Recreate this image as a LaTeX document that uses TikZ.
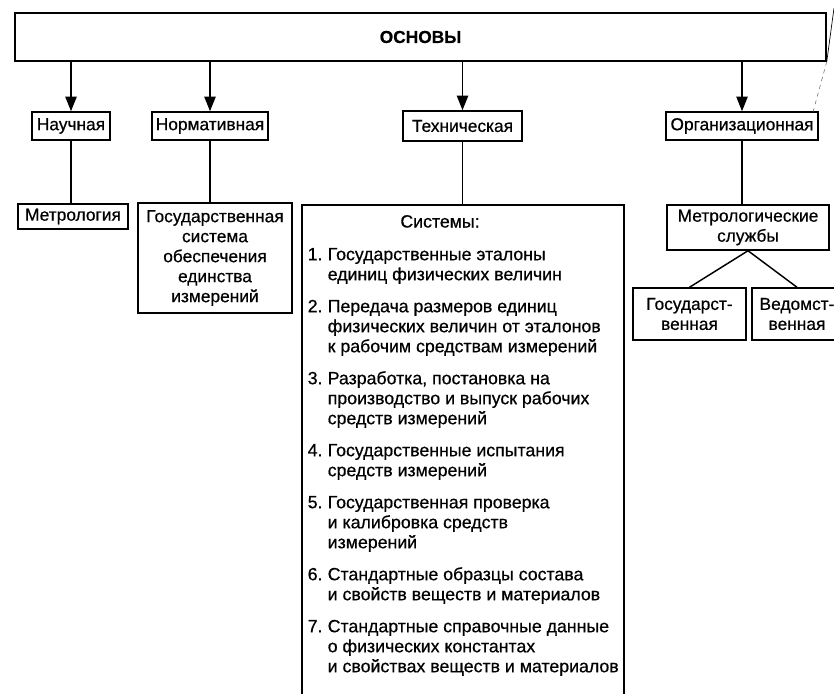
\documentclass[tikz,border=0pt]{standalone}
\usepackage{fontspec}
\setmainfont{Liberation Sans}[FakeBold=0.6]
\usetikzlibrary{arrows.meta}

\tikzset{every picture/.style={line width=1.1pt}}
\tikzset{
  blok/.style={draw, align=center, inner sep=2pt, font=\fontsize{13}{15}\selectfont},
  strelka/.style={-{Triangle[length=11pt,width=8.5pt]}},
  punkt/.style={anchor=north west, inner sep=0pt, align=left, font=\fontsize{13.3}{15}\selectfont},
  skan/.style={line width=0.4pt, dashed, color=black!60},
}

\begin{document}
\begin{tikzpicture}[x=0.75pt,y=0.75pt,yscale=-1,xscale=1]
	\useasboundingbox (0,0) rectangle (834,693);
	
	%Shape: Rectangle [osnovy]
	\node [blok, minimum width=608.25pt, minimum height=36pt, font=\fontsize{13}{15}\selectfont\bfseries] (osnovy) at (420.5,37) {ОСНОВЫ};
	
	%Shape: Rectangle [second row]
	\node [blok, minimum width=58.5pt, minimum height=21pt] (nauch) at (71,126) {Научная};
	\node [blok, minimum width=87pt, minimum height=21pt] (norm) at (210,126) {Нормативная};
	\node [blok, minimum width=89.25pt, minimum height=22.5pt] (tekh) at (462.5,126) {Техническая};
	\node [blok, minimum width=114pt, minimum height=21pt] (org) at (742,126) {Организационная};
	
	%Shape: Rectangle [third row]
	\node [blok, minimum width=82.5pt, minimum height=18.75pt] (metro) at (73,216.5) {Метрология};
	\node [blok, minimum width=115.5pt, minimum height=82.5pt] (gsei) at (215,258) {Государственная\\система\\обеспечения\\единства\\измерений};
	\node [blok, minimum width=121.5pt, minimum height=33.75pt] (msl) at (748,227.5) {Метрологические\\службы};
	\node [blok, minimum width=84.75pt, minimum height=39pt] (gos) at (689.5,314) {Государст-\\венная};
	\node [blok, minimum width=67.5pt, minimum height=39pt] (ved) at (797,314) {Ведомст-\\венная};
	
	%Shape: open box [sistemy]
	\coordinate (sysNW) at (302,205);
	\coordinate (sysNE) at (624,205);
	\draw (302,700) -- (sysNW) -- (sysNE) -- (624,700);
	
	%Arrows
	\draw [strelka] (osnovy.south -| nauch) -- (nauch.north);
	\draw [strelka] (osnovy.south -| norm) -- (norm.north);
	\draw [strelka] (osnovy.south -| tekh) -- (tekh.north);
	\draw [strelka] (osnovy.south -| org) -- (org.north);
	
	%Straight Lines
	\draw (nauch.south) -- (nauch.south |- metro.north);
	\draw (norm.south) -- (norm.south |- gsei.north);
	\draw (tekh.south) -- (tekh.south |- sysNW);
	\draw (org.south) -- (org.south |- msl.north);
	\draw (msl.south) -- (gos.north);
	\draw (msl.south) -- (ved.north);
	
	%Scan line
	\coordinate (skanEnd) at (813,112);
	\draw [skan] (osnovy.south east) -- (skanEnd);
	\draw [line width=0.5pt] (osnovy.south east) -- (834,8);
	
	% Text Node
	\node [punkt, anchor=base] (sysTitle) at (440,227.5) {Системы:};
	% Text Node
	\node [punkt] (n1) at (307,245.5) {\strut 1.};
	\node [punkt] (t1) at (327,245.5) {\strut Государственные эталоны\\единиц физических величин};
	% Text Node
	\node [punkt] (n2) at (307,297.5) {\strut 2.};
	\node [punkt] (t2) at (327,297.5) {\strut Передача размеров единиц\\физических величин от эталонов\\к рабочим средствам измерений};
	% Text Node
	\node [punkt] (n3) at (307,369.5) {\strut 3.};
	\node [punkt] (t3) at (327,369.5) {\strut Разработка, постановка на\\производство и выпуск рабочих\\средств измерений};
	% Text Node
	\node [punkt] (n4) at (307,441.5) {\strut 4.};
	\node [punkt] (t4) at (327,441.5) {\strut Государственные испытания\\средств измерений};
	% Text Node
	\node [punkt] (n5) at (307,493.5) {\strut 5.};
	\node [punkt] (t5) at (327,493.5) {\strut Государственная проверка\\и калибровка средств\\измерений};
	% Text Node
	\node [punkt] (n6) at (307,565.5) {\strut 6.};
	\node [punkt] (t6) at (327,565.5) {\strut Стандартные образцы состава\\и свойств веществ и материалов};
	% Text Node
	\node [punkt] (n7) at (307,617.5) {\strut 7.};
	\node [punkt] (t7) at (327,617.5) {\strut Стандартные справочные данные\\о физических константах\\и свойствах веществ и материалов};
	
\end{tikzpicture}
\end{document}
